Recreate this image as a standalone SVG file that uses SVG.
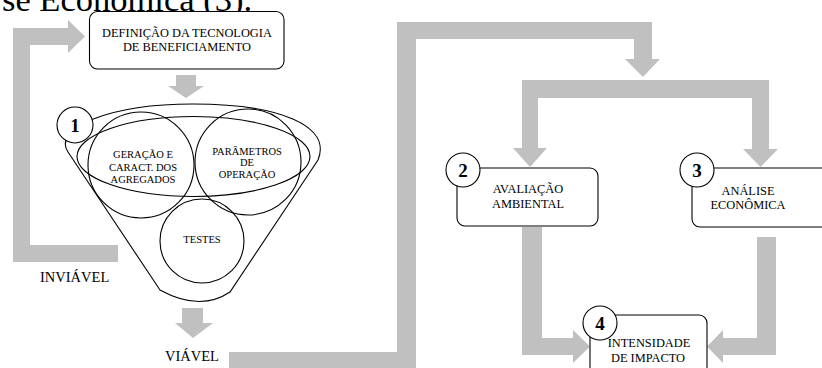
<svg xmlns="http://www.w3.org/2000/svg" width="822" height="368" viewBox="0 0 822 368">
  <style>
    .flow { fill: #c0c0c0; stroke: none; }
    .box { fill: #ffffff; stroke: #000000; stroke-width: 1.1; }
    .ring { fill: none; stroke: #000000; stroke-width: 1.1; }
    .badge { fill: #ffffff; stroke: #000000; stroke-width: 1.1; }
    .lbl { font-family: "Liberation Serif", "Times New Roman", serif; font-size: 12.4px; fill: #000000; text-anchor: middle; }
    .small { font-size: 10.5px; }
    .num { font-family: "Liberation Serif", "Times New Roman", serif; font-size: 19px; font-weight: bold; fill: #000000; text-anchor: middle; }
    .cap { font-family: "Liberation Serif", "Times New Roman", serif; font-size: 14.5px; fill: #000000; }
  </style>
  <rect width="822" height="368" fill="#ffffff"/>

  <!-- running text above the figure -->
  <text x="2" y="11" font-family="Liberation Serif, Times New Roman, serif" font-size="34.5" fill="#000000">se Econômica (3).</text>

  <!-- wide grey flow arrows -->
  <g id="connectors">
    <!-- INVIÁVEL loop back to the definition box -->
    <path class="flow" d="M118,245 L30,245 L30,45 L68,45 L68,53 L85,36.5 L68,20 L68,28 L13,28 L13,262 L118,262 Z"/>
    <!-- definition -> funnel -->
    <path class="flow" d="M176,75 L196,75 L196,86 L204,86 L186,98 L168,86 L176,86 Z"/>
    <!-- funnel -> VIÁVEL -->
    <path class="flow" d="M182,308 L203,308 L203,323 L213,323 L193,338 L175,323 L182,323 Z"/>
    <!-- VIÁVEL -> split -->
    <path class="flow" d="M229,352 L397,352 L397,22 L652,22 L652,59 L660,59 L643,77 L625,59 L634,59 L634,39 L416,39 L416,370 L229,370 Z"/>
    <!-- split to assessments 2 and 3 -->
    <path class="flow" d="M522,80 L769,80 L769,149 L778,149 L760.5,167 L743,149 L752,149 L752,98 L538,98 L538,148 L547,148 L530,167 L513,148 L522,148 Z"/>
    <!-- 2 -> 4 -->
    <path class="flow" d="M522,227 L542,227 L542,338 L573,338 L573,330 L590,346.5 L573,363 L573,355 L522,355 Z"/>
    <!-- 3 -> 4 -->
    <path class="flow" d="M757,237 L776,237 L776,355 L723,355 L723,363 L707,346.5 L723,330 L723,338 L757,338 Z"/>
  </g>

  <g id="definicao" font-family="Liberation Serif, serif">
    <rect class="box" x="89.5" y="11.5" width="194.5" height="57.5" rx="8"/>
    <text class="lbl" x="187" y="37">DEFINIÇÃO DA TECNOLOGIA</text>
    <text class="lbl" x="187" y="51">DE BENEFICIAMENTO</text>
  </g>

  <g id="funil" font-family="Liberation Serif, serif">
    <path class="ring" d="M160,290 L68,152 C52,128 110,104 193,104 C280,104 332,126 318,160 L230,292 Q200,312 160,290 Z"/>
    <ellipse class="ring" cx="193.5" cy="156.5" rx="116.5" ry="40"/>
    <circle class="ring" cx="141" cy="165" r="53"/>
    <circle class="ring" cx="248" cy="162" r="53"/>
    <circle class="ring" cx="202" cy="241" r="42"/>
    <text class="lbl small" x="143" y="158">GERAÇÃO  E</text>
    <text class="lbl small" x="143" y="170.5">CARACT. DOS</text>
    <text class="lbl small" x="143" y="182.5">AGREGADOS</text>
    <text class="lbl small" x="247" y="154.5">PARÂMETROS</text>
    <text class="lbl small" x="247" y="166">DE</text>
    <text class="lbl small" x="247" y="177.5">OPERAÇÃO</text>
    <text class="lbl small" x="202" y="243">TESTES</text>
    <circle class="badge" cx="75" cy="125" r="18"/>
    <text class="num" x="75" y="132">1</text>
  </g>

  <text class="cap" x="40" y="282">INVIÁVEL</text>
  <text class="cap" x="165" y="361">VIÁVEL</text>

  <g id="avaliacao" font-family="Liberation Serif, serif">
    <rect class="box" x="457" y="168" width="141" height="58" rx="8"/>
    <text class="lbl" x="528" y="193">AVALIAÇÃO</text>
    <text class="lbl" x="528" y="208">AMBIENTAL</text>
    <circle class="badge" cx="463" cy="170" r="17"/>
    <text class="num" x="463" y="177">2</text>
  </g>

  <g id="analise" font-family="Liberation Serif, serif">
    <rect class="box" x="692" y="168" width="140" height="59" rx="8" stroke="#444444"/>
    <text class="lbl" x="748" y="195">ANÁLISE</text>
    <text class="lbl" x="748" y="209">ECONÔMICA</text>
    <circle class="badge" cx="697" cy="170" r="17"/>
    <text class="num" x="697" y="177">3</text>
  </g>

  <g id="intensidade" font-family="Liberation Serif, serif">
    <rect class="box" x="590" y="315" width="117" height="62" rx="8"/>
    <text class="lbl" x="649" y="347">INTENSIDADE</text>
    <text class="lbl" x="648" y="362">DE IMPACTO</text>
    <circle class="badge" cx="600" cy="323" r="17"/>
    <text class="num" x="600" y="330">4</text>
  </g>
</svg>
